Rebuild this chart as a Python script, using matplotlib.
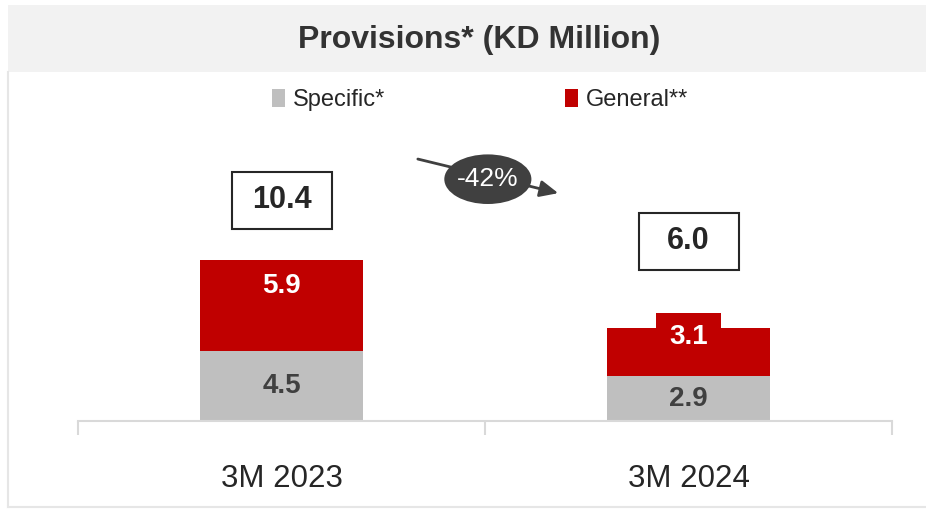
import matplotlib.pyplot as plt
from matplotlib.patches import Rectangle, Ellipse, Patch

plt.rcParams['font.family'] = ['Liberation Sans', 'DejaVu Sans']

# data
categories = ['3M 2023', '3M 2024']
specific = [4.5, 2.9]
general = [5.9, 3.1]
totals = [10.4, 6.0]
change_label = '-42%'

# label placement (data units)
total_label_y = [14.25, 11.6]
general_label_shift = [1.25, 1.0]

GREY = '#bfbfbf'
RED = '#c00000'
DARK = '#404040'
LINE = '#d9d9d9'

W, H = 926, 509
fig = plt.figure(figsize=(W / 100, H / 100), dpi=100)

# title band and panel border
fig.patches.append(Rectangle((8 / W, 1 - 72 / H), 1 - 8 / W, 67 / H,
                             transform=fig.transFigure, facecolor='#f2f2f2',
                             edgecolor='none', zorder=0))
fig.lines.append(plt.Line2D([7.5 / W, 7.5 / W], [1 - 72 / H, 1 - 507 / H],
                            transform=fig.transFigure, color='#e6e6e6', lw=1.5))
fig.lines.append(plt.Line2D([7.5 / W, 1], [1 - 507 / H, 1 - 507 / H],
                            transform=fig.transFigure, color='#e6e6e6', lw=1.5))
fig.text(479 / W, 1 - 40 / H, 'Provisions* (KD Million)', ha='center', va='center',
         fontsize=23, fontweight='bold', color='#333333')

# plot area: x 78..892 px, y 421..72 px
ax = fig.add_axes([78 / W, 1 - 421 / H, 814 / W, 349 / H])
ax.set_xlim(-0.5, 1.5)
ax.set_ylim(0, 349 / 15.5)

x = range(len(categories))
bw = 0.4
ax.bar(x, specific, width=bw, color=GREY, zorder=2)
ax.bar(x, general, width=bw, bottom=specific, color=RED, zorder=2)

for i in x:
    ax.text(i, specific[i] / 2, f'{specific[i]:.1f}', ha='center', va='center',
            fontsize=20, fontweight='bold', color=DARK, zorder=4)
    ax.text(i, specific[i] + general[i] / 2 + general_label_shift[i], f'{general[i]:.1f}',
            ha='center', va='center', fontsize=20, fontweight='bold', color='white', zorder=4)
    # total box
    bx_w, bx_h = 100 / 407, 57 / 15.5
    ax.add_patch(Rectangle((i - bx_w / 2, total_label_y[i] - bx_h / 2), bx_w, bx_h,
                           facecolor='white', edgecolor='#262626', lw=1.5, zorder=3))
    ax.text(i, total_label_y[i], f'{totals[i]:.1f}', ha='center', va='center',
            fontsize=22, fontweight='bold', color='#262626', zorder=4)

# red tab behind the small general label
top2 = specific[1] + general[1]
ax.add_patch(Rectangle((1 - 0.08, top2 - 0.2), 0.16, 1.17, facecolor=RED,
                       edgecolor='none', zorder=2))

# change arrow + ellipse
ax.annotate('', xy=(0.68, 14.7), xytext=(0.335, 16.9),
            arrowprops=dict(arrowstyle='-|>,head_length=1.1,head_width=0.5',
                            color=DARK, lw=2, shrinkA=0, shrinkB=0), zorder=3)
ax.add_patch(Ellipse((0.507, 15.6), 0.214, 3.2, facecolor=DARK, edgecolor='none', zorder=4))
ax.text(0.507, 15.6, change_label, ha='center', va='center', fontsize=19,
        color='white', zorder=5)

# axes styling
for s in ['top', 'right', 'left']:
    ax.spines[s].set_visible(False)
ax.spines['bottom'].set_color(LINE)
ax.spines['bottom'].set_linewidth(1.5)
ax.set_yticks([])
ax.set_xticks(list(x))
ax.set_xticklabels(categories, fontsize=22.5, color='#262626')
ax.tick_params(axis='x', which='major', length=0, pad=31)
ax.set_xticks([-0.5, 0.5, 1.5], minor=True)
ax.tick_params(axis='x', which='minor', length=10, width=1.5, color=LINE)
ax.patch.set_visible(False)

# legend
handles = [Patch(facecolor=GREY, label='Specific*'), Patch(facecolor=RED, label='General**')]
fig.legend(handles=handles, loc='center', bbox_to_anchor=(480 / W, 1 - 100 / H), ncol=2,
           frameon=False, fontsize=17, handlelength=0.55, handleheight=0.8,
           handletextpad=0.35, columnspacing=7.6, labelcolor='#262626')

fig.savefig('out.png', dpi=100)
